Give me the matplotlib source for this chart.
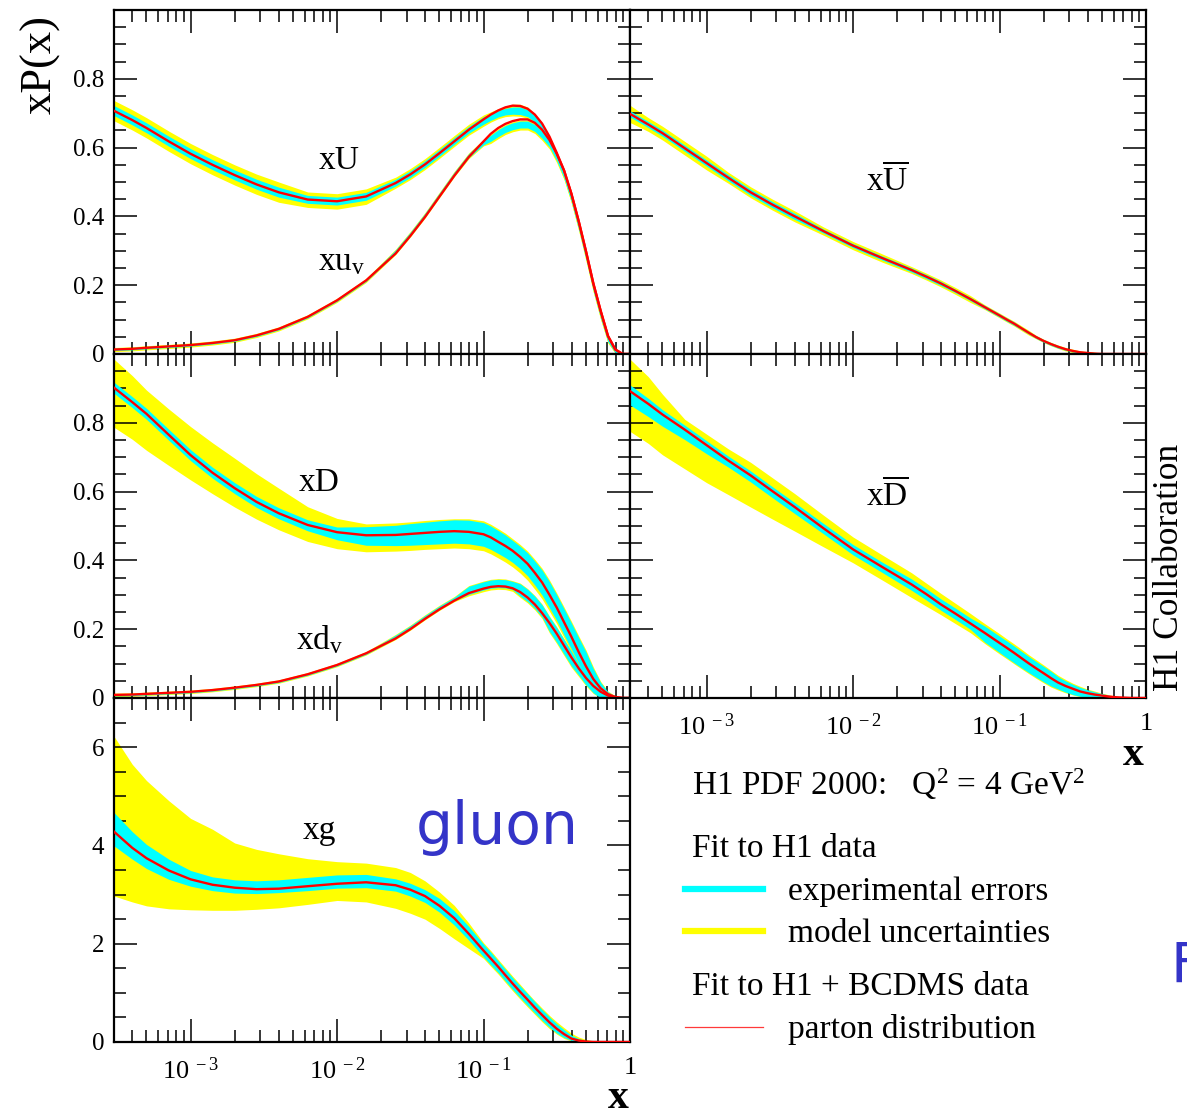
import numpy as np
import matplotlib
matplotlib.use('Agg')
import matplotlib.pyplot as plt
from matplotlib.ticker import LogLocator, MultipleLocator, FuncFormatter, NullFormatter
from matplotlib.lines import Line2D

plt.rcParams['font.family'] = ['Liberation Serif', 'DejaVu Serif']
plt.rcParams['mathtext.fontset'] = 'custom'
plt.rcParams['mathtext.rm'] = 'Liberation Serif'
plt.rcParams['mathtext.it'] = 'Liberation Serif:italic'
plt.rcParams['mathtext.bf'] = 'Liberation Serif:bold'

# ---------------- data ----------------
x = [3.0e-4, 4.0e-4, 5.0e-4, 7.1e-4, 1.0e-3, 1.41e-3, 2.0e-3, 2.82e-3, 4.0e-3, 6.3e-3,
     0.010, 0.0158, 0.0251, 0.0316, 0.0398, 0.0501, 0.0631, 0.0794, 0.100, 0.112,
     0.126, 0.141, 0.158, 0.178, 0.200, 0.224, 0.251, 0.282, 0.316, 0.355,
     0.398, 0.447, 0.501, 0.562, 0.631, 0.708, 0.794, 0.891, 1.0]

# xU
xU_c = [0.707, 0.680, 0.657, 0.618, 0.582, 0.550, 0.520, 0.493, 0.470, 0.449,
        0.444, 0.458, 0.497, 0.522, 0.551, 0.584, 0.618, 0.652, 0.682, 0.696,
        0.708, 0.717, 0.722, 0.721, 0.713, 0.696, 0.670, 0.632, 0.585, 0.533,
        0.466, 0.385, 0.298, 0.205, 0.125, 0.052, 0.013, 0.0, 0.0]
xU_elo = [0.693, 0.666, 0.643, 0.604, 0.568, 0.536, 0.506, 0.479, 0.456, 0.438,
          0.433, 0.447, 0.488, 0.513, 0.542, 0.575, 0.609, 0.642, 0.668, 0.679,
          0.689, 0.695, 0.697, 0.696, 0.690, 0.674, 0.651, 0.614, 0.567, 0.512,
          0.444, 0.363, 0.276, 0.185, 0.105, 0.036, 0.004, 0.0, 0.0]
xU_ehi = [0.722, 0.695, 0.672, 0.633, 0.597, 0.565, 0.535, 0.508, 0.485, 0.461,
          0.456, 0.470, 0.508, 0.533, 0.562, 0.595, 0.629, 0.662, 0.690, 0.699,
          0.708, 0.714, 0.718, 0.718, 0.710, 0.693, 0.668, 0.630, 0.583, 0.528,
          0.466, 0.385, 0.298, 0.205, 0.125, 0.052, 0.013, 0.0, 0.0]
xU_mlo = [0.678, 0.651, 0.628, 0.589, 0.553, 0.521, 0.491, 0.464, 0.441, 0.426,
          0.421, 0.435, 0.482, 0.507, 0.536, 0.569, 0.603, 0.636, 0.662, 0.674,
          0.684, 0.690, 0.692, 0.691, 0.685, 0.669, 0.646, 0.609, 0.562, 0.507,
          0.439, 0.358, 0.271, 0.180, 0.100, 0.032, 0.002, 0.0, 0.0]
xU_mhi = [0.737, 0.710, 0.687, 0.648, 0.612, 0.580, 0.550, 0.523, 0.500, 0.471,
          0.466, 0.480, 0.514, 0.539, 0.568, 0.601, 0.635, 0.668, 0.695, 0.704,
          0.713, 0.720, 0.726, 0.726, 0.718, 0.698, 0.672, 0.634, 0.587, 0.532,
          0.470, 0.389, 0.302, 0.209, 0.129, 0.056, 0.016, 0.001, 0.0]

# xu_v
xuv_c = [0.013, 0.015, 0.018, 0.022, 0.026, 0.032, 0.040, 0.054, 0.073, 0.108,
         0.156, 0.214, 0.292, 0.343, 0.398, 0.458, 0.518, 0.573, 0.618, 0.640,
         0.657, 0.669, 0.677, 0.682, 0.682, 0.672, 0.652, 0.622, 0.582, 0.533,
         0.466, 0.385, 0.298, 0.205, 0.125, 0.052, 0.013, 0.0, 0.0]
xuv_elo = [0.010, 0.012, 0.015, 0.019, 0.023, 0.029, 0.037, 0.051, 0.070, 0.105,
           0.153, 0.211, 0.292, 0.343, 0.398, 0.458, 0.518, 0.571, 0.608, 0.618,
           0.632, 0.644, 0.652, 0.657, 0.657, 0.647, 0.627, 0.602, 0.562, 0.512,
           0.444, 0.363, 0.276, 0.185, 0.105, 0.036, 0.004, 0.0, 0.0]
xuv_ehi = [0.017, 0.019, 0.022, 0.026, 0.030, 0.036, 0.044, 0.058, 0.077, 0.112,
           0.160, 0.218, 0.303, 0.354, 0.409, 0.469, 0.529, 0.583, 0.622, 0.636,
           0.652, 0.664, 0.672, 0.677, 0.677, 0.667, 0.647, 0.622, 0.582, 0.528,
           0.466, 0.385, 0.298, 0.205, 0.125, 0.052, 0.013, 0.0, 0.0]
xuv_mlo = [0.007, 0.009, 0.012, 0.016, 0.020, 0.026, 0.034, 0.048, 0.067, 0.102,
           0.150, 0.208, 0.289, 0.340, 0.395, 0.455, 0.515, 0.568, 0.605, 0.612,
           0.626, 0.638, 0.646, 0.651, 0.651, 0.641, 0.621, 0.596, 0.556, 0.507,
           0.439, 0.358, 0.271, 0.180, 0.100, 0.032, 0.002, 0.0, 0.0]
xuv_mhi = [0.019, 0.021, 0.024, 0.028, 0.032, 0.038, 0.046, 0.060, 0.079, 0.114,
           0.162, 0.220, 0.305, 0.356, 0.411, 0.471, 0.531, 0.585, 0.624, 0.639,
           0.655, 0.667, 0.675, 0.680, 0.680, 0.670, 0.650, 0.625, 0.585, 0.532,
           0.470, 0.389, 0.302, 0.209, 0.129, 0.056, 0.016, 0.001, 0.0]

# xD
xD_c = [0.902, 0.860, 0.826, 0.765, 0.706, 0.655, 0.610, 0.570, 0.537, 0.503,
        0.482, 0.473, 0.474, 0.477, 0.480, 0.483, 0.485, 0.483, 0.476, 0.467,
        0.454, 0.442, 0.428, 0.410, 0.390, 0.364, 0.336, 0.300, 0.263, 0.220,
        0.178, 0.133, 0.092, 0.055, 0.028, 0.011, 0.003, 0.0, 0.0]
xD_elo = [0.886, 0.844, 0.810, 0.749, 0.690, 0.639, 0.594, 0.554, 0.521, 0.486,
          0.460, 0.444, 0.443, 0.444, 0.446, 0.448, 0.450, 0.448, 0.441, 0.432,
          0.420, 0.408, 0.394, 0.376, 0.355, 0.328, 0.299, 0.262, 0.225, 0.183,
          0.142, 0.100, 0.060, 0.030, 0.010, 0.002, 0.0, 0.0, 0.0]
xD_ehi = [0.918, 0.876, 0.842, 0.781, 0.722, 0.671, 0.626, 0.586, 0.553, 0.518,
          0.497, 0.498, 0.502, 0.507, 0.511, 0.515, 0.518, 0.517, 0.510, 0.500,
          0.487, 0.474, 0.458, 0.441, 0.422, 0.398, 0.372, 0.338, 0.300, 0.259,
          0.218, 0.175, 0.134, 0.085, 0.045, 0.018, 0.005, 0.0, 0.0]
xD_mlo = [0.787, 0.752, 0.720, 0.676, 0.634, 0.594, 0.555, 0.520, 0.489, 0.455,
          0.434, 0.425, 0.427, 0.429, 0.432, 0.434, 0.436, 0.434, 0.428, 0.419,
          0.407, 0.395, 0.381, 0.363, 0.342, 0.316, 0.288, 0.252, 0.216, 0.175,
          0.135, 0.094, 0.055, 0.027, 0.008, 0.001, 0.0, 0.0, 0.0]
xD_mhi = [0.985, 0.937, 0.895, 0.840, 0.789, 0.742, 0.697, 0.652, 0.610, 0.556,
          0.522, 0.506, 0.509, 0.512, 0.516, 0.519, 0.521, 0.521, 0.515, 0.505,
          0.492, 0.479, 0.463, 0.446, 0.427, 0.403, 0.377, 0.343, 0.305, 0.264,
          0.223, 0.180, 0.139, 0.090, 0.048, 0.020, 0.006, 0.002, 0.0]

# xd_v
xdv_c = [0.009, 0.010, 0.012, 0.015, 0.018, 0.023, 0.030, 0.038, 0.048, 0.069,
         0.096, 0.130, 0.173, 0.200, 0.230, 0.258, 0.283, 0.305, 0.318, 0.323,
         0.325, 0.324, 0.319, 0.308, 0.292, 0.272, 0.247, 0.218, 0.187, 0.152,
         0.118, 0.086, 0.058, 0.035, 0.018, 0.007, 0.002, 0.0, 0.0]
xdv_elo = [0.006, 0.007, 0.009, 0.012, 0.015, 0.020, 0.027, 0.035, 0.045, 0.066,
           0.093, 0.127, 0.173, 0.200, 0.230, 0.258, 0.283, 0.301, 0.314, 0.319,
           0.321, 0.320, 0.315, 0.296, 0.280, 0.260, 0.235, 0.193, 0.162, 0.127,
           0.093, 0.066, 0.038, 0.015, 0.0, 0.0, 0.0, 0.0, 0.0]
xdv_ehi = [0.012, 0.013, 0.015, 0.018, 0.021, 0.026, 0.033, 0.041, 0.051, 0.072,
           0.099, 0.133, 0.183, 0.210, 0.240, 0.268, 0.293, 0.325, 0.338, 0.343,
           0.345, 0.344, 0.339, 0.332, 0.316, 0.296, 0.271, 0.236, 0.205, 0.170,
           0.136, 0.098, 0.070, 0.047, 0.030, 0.012, 0.007, 0.0, 0.0]
xdv_mlo = [0.004, 0.005, 0.007, 0.010, 0.013, 0.018, 0.025, 0.033, 0.043, 0.064,
           0.091, 0.125, 0.170, 0.197, 0.227, 0.255, 0.280, 0.297, 0.309, 0.314,
           0.316, 0.315, 0.310, 0.292, 0.276, 0.256, 0.231, 0.189, 0.158, 0.123,
           0.089, 0.062, 0.035, 0.013, 0.0, 0.0, 0.0, 0.0, 0.0]
xdv_mhi = [0.014, 0.015, 0.017, 0.020, 0.023, 0.028, 0.035, 0.043, 0.053, 0.074,
           0.101, 0.135, 0.185, 0.212, 0.242, 0.270, 0.295, 0.327, 0.340, 0.345,
           0.347, 0.346, 0.341, 0.334, 0.318, 0.298, 0.273, 0.238, 0.207, 0.172,
           0.138, 0.100, 0.072, 0.049, 0.032, 0.014, 0.008, 0.001, 0.0]

# xUbar
xUb_c = [0.698, 0.667, 0.642, 0.598, 0.555, 0.512, 0.470, 0.434, 0.400, 0.357,
         0.315, 0.279, 0.244, 0.225, 0.205, 0.183, 0.160, 0.136, 0.112, 0.100,
         0.088, 0.075, 0.062, 0.049, 0.038, 0.029, 0.021, 0.014, 0.009, 0.005,
         0.003, 0.001, 0.0, 0.0, 0.0, 0.0, 0.0, 0.0, 0.0]
xUb_elo = [0.689, 0.658, 0.633, 0.589, 0.546, 0.503, 0.461, 0.425, 0.391, 0.351,
           0.309, 0.273, 0.238, 0.219, 0.199, 0.178, 0.155, 0.131, 0.107, 0.095,
           0.083, 0.071, 0.058, 0.045, 0.034, 0.025, 0.017, 0.011, 0.006, 0.002,
           0.0, 0.0, 0.0, 0.0, 0.0, 0.0, 0.0, 0.0, 0.0]
xUb_ehi = [0.707, 0.676, 0.651, 0.607, 0.564, 0.521, 0.479, 0.443, 0.409, 0.363,
           0.321, 0.285, 0.250, 0.231, 0.211, 0.188, 0.165, 0.141, 0.117, 0.105,
           0.093, 0.079, 0.066, 0.053, 0.042, 0.033, 0.025, 0.017, 0.012, 0.008,
           0.006, 0.003, 0.001, 0.0, 0.0, 0.0, 0.0, 0.0, 0.0]
xUb_mlo = [0.673, 0.647, 0.622, 0.578, 0.535, 0.496, 0.454, 0.418, 0.384, 0.345,
           0.303, 0.267, 0.234, 0.215, 0.195, 0.173, 0.150, 0.129, 0.105, 0.093,
           0.081, 0.068, 0.055, 0.044, 0.033, 0.024, 0.016, 0.009, 0.004, 0.001,
           0.0, 0.0, 0.0, 0.0, 0.0, 0.0, 0.0, 0.0, 0.0]
xUb_mhi = [0.723, 0.687, 0.662, 0.618, 0.575, 0.528, 0.486, 0.450, 0.416, 0.369,
           0.327, 0.291, 0.254, 0.235, 0.215, 0.193, 0.170, 0.143, 0.119, 0.107,
           0.095, 0.082, 0.069, 0.054, 0.043, 0.034, 0.026, 0.019, 0.014, 0.009,
           0.007, 0.005, 0.002, 0.001, 0.0, 0.0, 0.0, 0.0, 0.0]

# xDbar
xDb_c = [0.892, 0.855, 0.824, 0.780, 0.735, 0.690, 0.647, 0.601, 0.555, 0.493,
         0.432, 0.381, 0.330, 0.302, 0.272, 0.245, 0.217, 0.189, 0.160, 0.146,
         0.131, 0.116, 0.101, 0.086, 0.072, 0.058, 0.045, 0.035, 0.027, 0.019,
         0.014, 0.010, 0.007, 0.004, 0.002, 0.001, 0.0, 0.0, 0.0]
xDb_elo = [0.852, 0.818, 0.790, 0.751, 0.710, 0.671, 0.628, 0.582, 0.536, 0.477,
           0.416, 0.365, 0.313, 0.285, 0.255, 0.228, 0.200, 0.162, 0.132, 0.117,
           0.102, 0.088, 0.074, 0.060, 0.047, 0.035, 0.026, 0.017, 0.010, 0.005,
           0.002, 0.0, 0.0, 0.0, 0.0, 0.0, 0.0, 0.0, 0.0]
xDb_ehi = [0.910, 0.871, 0.838, 0.793, 0.748, 0.703, 0.660, 0.614, 0.568, 0.507,
           0.446, 0.395, 0.346, 0.318, 0.288, 0.261, 0.233, 0.209, 0.180, 0.166,
           0.151, 0.136, 0.121, 0.106, 0.092, 0.078, 0.062, 0.050, 0.040, 0.031,
           0.024, 0.018, 0.013, 0.008, 0.004, 0.002, 0.0, 0.0, 0.0]
xDb_mlo = [0.775, 0.740, 0.707, 0.666, 0.626, 0.591, 0.555, 0.520, 0.485, 0.439,
           0.393, 0.343, 0.292, 0.267, 0.242, 0.216, 0.190, 0.158, 0.128, 0.114,
           0.099, 0.085, 0.071, 0.057, 0.044, 0.032, 0.023, 0.015, 0.009, 0.004,
           0.001, 0.0, 0.0, 0.0, 0.0, 0.0, 0.0, 0.0, 0.0]
xDb_mhi = [0.985, 0.934, 0.883, 0.810, 0.767, 0.724, 0.685, 0.640, 0.594, 0.531,
           0.468, 0.416, 0.364, 0.334, 0.304, 0.275, 0.246, 0.216, 0.187, 0.172,
           0.157, 0.142, 0.126, 0.111, 0.096, 0.081, 0.066, 0.054, 0.043, 0.034,
           0.026, 0.020, 0.014, 0.009, 0.005, 0.002, 0.0, 0.0, 0.0]

# xg
xg_c = [4.28, 3.95, 3.74, 3.49, 3.31, 3.20, 3.14, 3.11, 3.12, 3.17,
        3.22, 3.25, 3.19, 3.10, 2.97, 2.77, 2.52, 2.20, 1.86, 1.70,
        1.53, 1.36, 1.19, 1.02, 0.86, 0.70, 0.55, 0.40, 0.27, 0.16,
        0.07, 0.03, 0.008, 0.0, 0.0, 0.0, 0.0, 0.0, 0.0]
xg_elo = [3.99, 3.72, 3.53, 3.31, 3.17, 3.08, 3.03, 3.02, 3.04, 3.08,
          3.13, 3.14, 3.07, 2.97, 2.84, 2.64, 2.38, 2.07, 1.73, 1.57,
          1.41, 1.24, 1.07, 0.90, 0.74, 0.59, 0.44, 0.30, 0.18, 0.09,
          0.03, 0.0, 0.0, 0.0, 0.0, 0.0, 0.0, 0.0, 0.0]
xg_ehi = [4.67, 4.28, 4.02, 3.72, 3.49, 3.36, 3.30, 3.28, 3.30, 3.35,
          3.40, 3.41, 3.32, 3.23, 3.10, 2.92, 2.67, 2.35, 1.99, 1.83,
          1.65, 1.48, 1.31, 1.14, 0.98, 0.82, 0.66, 0.51, 0.37, 0.25,
          0.14, 0.07, 0.03, 0.008, 0.0, 0.0, 0.0, 0.0, 0.0]
xg_mlo = [2.97, 2.85, 2.77, 2.71, 2.69, 2.68, 2.68, 2.70, 2.73, 2.80,
          2.88, 2.85, 2.72, 2.62, 2.50, 2.31, 2.10, 1.90, 1.70, 1.54,
          1.38, 1.21, 1.04, 0.87, 0.71, 0.56, 0.41, 0.27, 0.16, 0.07,
          0.02, 0.0, 0.0, 0.0, 0.0, 0.0, 0.0, 0.0, 0.0]
xg_mhi = [6.22, 5.65, 5.32, 4.91, 4.55, 4.33, 4.05, 3.92, 3.83, 3.73,
          3.67, 3.64, 3.55, 3.45, 3.28, 3.05, 2.78, 2.42, 2.02, 1.86,
          1.68, 1.51, 1.34, 1.17, 1.00, 0.84, 0.69, 0.54, 0.41, 0.29,
          0.18, 0.10, 0.05, 0.02, 0.005, 0.0, 0.0, 0.0, 0.0]

YELLOW = '#ffff00'
CYAN = '#00ffff'
RED = '#ff0000'
BLUE = '#3434c8'

W, H = 1187, 1115
fig = plt.figure(figsize=(W / 100, H / 100), dpi=100)


def fx(px):
    return px / W


def fy(py):
    return 1 - py / H


def make_ax(x0, y0, x1, y1):
    return fig.add_axes([fx(x0), fy(y1), fx(x1) - fx(x0), fy(y0) - fy(y1)])


ax_tl = make_ax(114, 10, 630, 354)
ax_tr = make_ax(630, 10, 1146, 354)
ax_ml = make_ax(114, 354, 630, 698)
ax_mr = make_ax(630, 354, 1146, 698)
ax_bl = make_ax(114, 698, 630, 1042)


def xfmt(v, pos):
    e = int(round(np.log10(v)))
    if e == 0:
        return '1'
    return r'10$^{\,\,%d}$' % e


def style(ax, ymax, ymaj, ymin, xlab, ylab, yfmt=None):
    ax.set_xscale('log')
    ax.set_xlim(3e-4, 1.0)
    ax.set_ylim(0, ymax)
    ax.xaxis.set_major_locator(LogLocator(base=10, numticks=20))
    ax.xaxis.set_minor_locator(LogLocator(base=10, subs=np.arange(2, 10), numticks=20))
    ax.yaxis.set_major_locator(MultipleLocator(ymaj))
    ax.yaxis.set_minor_locator(MultipleLocator(ymin))
    ax.xaxis.set_minor_formatter(NullFormatter())
    ax.tick_params(which='both', direction='in', top=True, right=True, width=1.1)
    ax.tick_params(which='major', length=16.5)
    ax.tick_params(which='minor', length=8.5)
    ax.tick_params(axis='x', pad=11, labelsize=19)
    ax.tick_params(axis='y', pad=7, labelsize=18)
    for s in ax.spines.values():
        s.set_linewidth(1.6)
    if xlab:
        ax.xaxis.set_major_formatter(FuncFormatter(xfmt))
    else:
        ax.xaxis.set_major_formatter(NullFormatter())
    if ylab:
        ax.yaxis.set_major_formatter(FuncFormatter(yfmt))
    else:
        ax.yaxis.set_major_formatter(NullFormatter())


def frac_fmt(v, pos):
    if v > 0.95:
        return ''
    if abs(v) < 1e-9:
        return '0'
    return '%.1f' % v


def int_fmt(v, pos):
    if v > 6.5:
        return ''
    return '%d' % round(v)


def draw(ax, elo, ehi, mlo, mhi):
    ax.fill_between(x, mlo, mhi, color=YELLOW, lw=0, zorder=1)
    ax.fill_between(x, elo, ehi, color=CYAN, lw=0, zorder=2)


def line(ax, c):
    ax.plot(x, c, color=RED, lw=1.7, zorder=4)


# top-left
draw(ax_tl, xU_elo, xU_ehi, xU_mlo, xU_mhi)
draw(ax_tl, xuv_elo, xuv_ehi, xuv_mlo, xuv_mhi)
line(ax_tl, xU_c)
line(ax_tl, xuv_c)
style(ax_tl, 1.0, 0.2, 0.05, False, True, frac_fmt)

# top-right
draw(ax_tr, xUb_elo, xUb_ehi, xUb_mlo, xUb_mhi)
line(ax_tr, xUb_c)
style(ax_tr, 1.0, 0.2, 0.05, False, False)

# middle-left
draw(ax_ml, xD_elo, xD_ehi, xD_mlo, xD_mhi)
draw(ax_ml, xdv_elo, xdv_ehi, xdv_mlo, xdv_mhi)
line(ax_ml, xD_c)
line(ax_ml, xdv_c)
style(ax_ml, 1.0, 0.2, 0.05, False, True, frac_fmt)

# middle-right
draw(ax_mr, xDb_elo, xDb_ehi, xDb_mlo, xDb_mhi)
line(ax_mr, xDb_c)
style(ax_mr, 1.0, 0.2, 0.05, True, False)

# bottom-left
draw(ax_bl, xg_elo, xg_ehi, xg_mlo, xg_mhi)
line(ax_bl, xg_c)
style(ax_bl, 7.0, 2.0, 0.5, True, True, int_fmt)

# curve names
lab_fs = 24
ax_tl.text(0.0104, 0.562, 'xU', fontsize=lab_fs, ha='center', va='center')
ax_tl.text(0.0107, 0.267, r'xu$_{\mathrm{v}}$', fontsize=lab_fs, ha='center', va='center')
ax_tr.text(0.0172, 0.504, r'x$\overline{\mathrm{U}}$', fontsize=lab_fs, ha='center', va='center')
ax_ml.text(0.0076, 0.626, 'xD', fontsize=lab_fs, ha='center', va='center')
ax_ml.text(0.0076, 0.168, r'xd$_{\mathrm{v}}$', fontsize=lab_fs, ha='center', va='center')
ax_mr.text(0.0172, 0.588, r'x$\overline{\mathrm{D}}$', fontsize=lab_fs, ha='center', va='center')
ax_bl.text(0.0076, 4.29, 'xg', fontsize=lab_fs, ha='center', va='center')

# axis titles
fig.text(fx(40), fy(65), 'xP(x)', rotation=90, fontsize=32, ha='center', va='center')
fig.text(fx(618), fy(1098), 'x', fontsize=30, fontweight='bold', ha='center', va='center')
fig.text(fx(1133), fy(755), 'x', fontsize=30, fontweight='bold', ha='center', va='center')
fig.text(fx(1169), fy(567), 'H1 Collaboration', rotation=90, fontsize=25.5,
         ha='center', va='center')

# gluon annotation and stray letter at the right edge
fig.text(fx(497), fy(828), 'gluon', fontsize=42, color=BLUE, ha='center', va='center',
         family=['DejaVu Sans'])
fig.text(fx(1171), fy(967), 'F', fontsize=40, color=BLUE, ha='left', va='center',
         family=['DejaVu Sans'])

# legend block
leg_fs = 24
fig.text(fx(692), fy(795), r'H1 PDF 2000:   Q$^{2}$ = 4 GeV$^{2}$', fontsize=leg_fs,
         ha='left', va='baseline')
fig.text(fx(692), fy(857), 'Fit to H1 data', fontsize=leg_fs, ha='left', va='baseline')
fig.add_artist(Line2D([fx(685), fx(763)], [fy(889), fy(889)], color=CYAN, lw=4.5))
fig.text(fx(788), fy(900), 'experimental errors', fontsize=leg_fs, ha='left', va='baseline')
fig.add_artist(Line2D([fx(685), fx(763)], [fy(931), fy(931)], color=YELLOW, lw=4.5))
fig.text(fx(788), fy(942), 'model uncertainties', fontsize=leg_fs, ha='left', va='baseline')
fig.text(fx(692), fy(995), 'Fit to H1 + BCDMS data', fontsize=leg_fs, ha='left', va='baseline')
fig.add_artist(Line2D([fx(685), fx(763)], [fy(1027), fy(1027)], color='#ff3a3a', lw=0.9))
fig.text(fx(788), fy(1038), 'parton distribution', fontsize=leg_fs, ha='left', va='baseline')

fig.savefig('out.png', dpi=100)
